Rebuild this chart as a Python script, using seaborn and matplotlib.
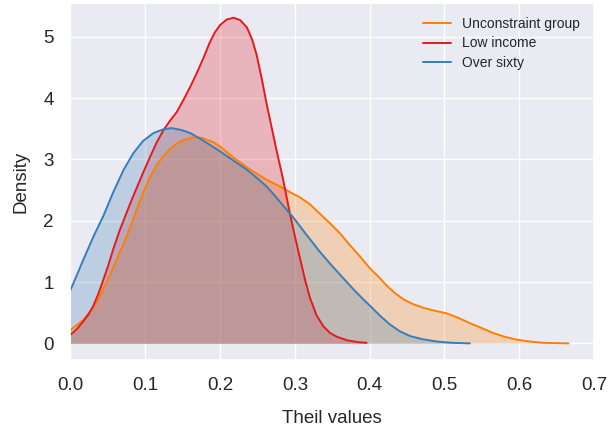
import matplotlib
matplotlib.use("Agg")
import matplotlib.pyplot as plt
import seaborn as sns
import pandas as pd

# Density curves
unc_x = [0.0, 0.017, 0.035, 0.053, 0.064, 0.075, 0.0885, 0.097, 0.106, 0.115, 0.124, 0.133,
         0.142, 0.152, 0.164, 0.176, 0.191, 0.2, 0.209, 0.218, 0.227, 0.236, 0.25, 0.262,
         0.275, 0.28, 0.293, 0.307, 0.32, 0.333, 0.346, 0.36, 0.373, 0.387, 0.40, 0.414,
         0.423, 0.434, 0.445, 0.458, 0.472, 0.488, 0.503, 0.518, 0.534, 0.55, 0.565, 0.58,
         0.597, 0.615, 0.632, 0.666]
unc_y = [0.22, 0.38, 0.66, 1.12, 1.43, 1.74, 2.18, 2.45, 2.70, 2.90, 3.05, 3.17,
         3.26, 3.32, 3.36, 3.35, 3.28, 3.21, 3.12, 3.03, 2.95, 2.87, 2.76, 2.67,
         2.59, 2.56, 2.47, 2.38, 2.27, 2.12, 1.97, 1.80, 1.61, 1.42, 1.23, 1.06,
         0.94, 0.82, 0.72, 0.64, 0.58, 0.53, 0.49, 0.42, 0.33, 0.25, 0.17, 0.11,
         0.06, 0.03, 0.01, 0.0]

low_x = [0.0, 0.009, 0.017, 0.024, 0.030, 0.037, 0.044, 0.051, 0.057, 0.066, 0.0795, 0.088,
         0.097, 0.106, 0.115, 0.124, 0.133, 0.142, 0.151, 0.16, 0.169, 0.178, 0.186, 0.193,
         0.2, 0.209, 0.218, 0.227, 0.236, 0.243, 0.249, 0.256, 0.262, 0.269, 0.276, 0.284,
         0.293, 0.30, 0.307, 0.314, 0.32, 0.329, 0.338, 0.347, 0.356, 0.37, 0.385, 0.396]
low_y = [0.14, 0.24, 0.36, 0.47, 0.60, 0.80, 1.04, 1.29, 1.53, 1.85, 2.27, 2.52,
         2.78, 3.03, 3.27, 3.47, 3.63, 3.77, 3.97, 4.18, 4.41, 4.66, 4.90, 5.07,
         5.19, 5.28, 5.31, 5.27, 5.15, 4.95, 4.70, 4.30, 3.92, 3.52, 3.12, 2.69,
         2.14, 1.75, 1.38, 1.02, 0.75, 0.46, 0.28, 0.17, 0.11, 0.05, 0.02, 0.01]

old_x = [0.0, 0.008, 0.017, 0.031, 0.044, 0.057, 0.071, 0.084, 0.097, 0.111, 0.124, 0.135,
         0.148, 0.16, 0.173, 0.186, 0.2, 0.218, 0.236, 0.25, 0.262, 0.271, 0.28, 0.289,
         0.30, 0.315, 0.333, 0.35, 0.365, 0.38, 0.393, 0.40, 0.414, 0.427, 0.44, 0.454,
         0.47, 0.49, 0.51, 0.534]
old_y = [0.87, 1.10, 1.36, 1.75, 2.08, 2.46, 2.83, 3.10, 3.30, 3.43, 3.49, 3.51,
         3.48, 3.43, 3.34, 3.24, 3.13, 2.98, 2.83, 2.69, 2.56, 2.44, 2.31, 2.18,
         2.02, 1.78, 1.50, 1.26, 1.06, 0.86, 0.70, 0.62, 0.45, 0.31, 0.20, 0.12,
         0.07, 0.03, 0.01, 0.0]

groups = ["Unconstraint group", "Low income", "Over sixty"]
colors = ["#ff7f00", "#e41a1c", "#377eb8"]
x_ticks = [0.0, 0.1, 0.2, 0.3, 0.4, 0.5, 0.6, 0.7]
y_ticks = [0, 1, 2, 3, 4, 5]

sns.set_theme(style="darkgrid")
plt.rcParams["font.family"] = ["Liberation Sans", "DejaVu Sans"]

series = [(unc_x, unc_y), (low_x, low_y), (old_x, old_y)]
frames = []
for g, (xs, ys) in zip(groups, series):
    frames.append(pd.DataFrame({"Theil": xs, "Density": ys, "group": g}))
df = pd.concat(frames, ignore_index=True)

fig = plt.figure(figsize=(6.13, 4.26), dpi=100)
ax = fig.add_axes([0.115, 0.155, 0.854, 0.838])

sns.lineplot(data=df, x="Theil", y="Density", hue="group", hue_order=groups,
             palette=colors, linewidth=1.4, ax=ax, sort=False, estimator=None)
for g, c in zip(groups, colors):
    sub = df[df["group"] == g]
    ax.fill_between(sub["Theil"], 0, sub["Density"], color=c, alpha=0.25, linewidth=0)

ax.set_xlim(0, 0.7)
ax.set_ylim(-0.27, 5.55)
ax.set_xticks(x_ticks)
ax.set_xticklabels([f"{v:.1f}" for v in x_ticks])
ax.set_yticks(y_ticks)
ax.tick_params(labelsize=13.5, pad=6)
ax.set_xlabel("Theil values", fontsize=13.5, labelpad=12)
ax.set_ylabel("Density", fontsize=13.5, labelpad=10)

leg = ax.legend(loc="upper right", fontsize=10, frameon=False, title=None,
                handlelength=2.0, borderaxespad=0.6, labelspacing=0.4)
for line in leg.get_lines():
    line.set_linewidth(1.4)

fig.savefig("out.png", dpi=100)
